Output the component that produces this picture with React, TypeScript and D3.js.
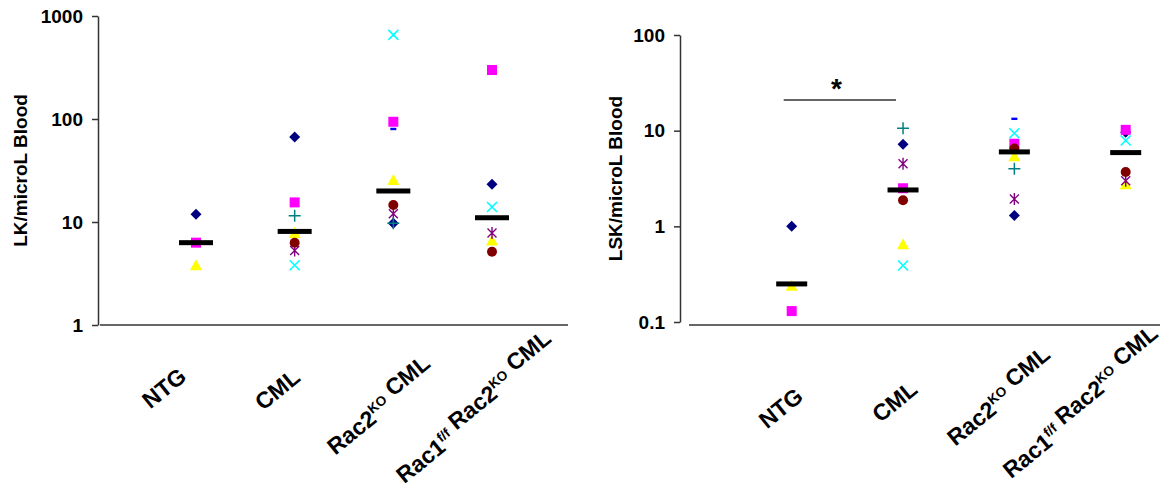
import React, { useEffect, useRef } from 'react';
import * as d3 from 'd3';

// groups on the x axis
const categories = ['NTG', 'CML', 'Rac2KO CML', 'Rac1ff Rac2KO CML'];
const labelMain = [['NTG'], ['CML'], ['Rac2', ' CML'], ['Rac1', ' Rac2', ' CML']];
const labelSup = [[], [], ['KO'], ['f/f', 'KO']];

// LK / microL blood (left panel), one array per mouse marker
const lkDiamond = [11.9, 67, 9.7, 23.2];
const lkSquare = [6.3, 15.5, 94, 299];
const lkTriangle = [3.8, 7.8, 25.6, 6.6];
const lkCross = [null, 3.8, 655, 14];
const lkStar = [null, 5.3, 12, 7.8];
const lkCircle = [null, 6.3, 14.6, 5.15];
const lkPlus = [null, 11.5, 9.7, null];
const lkDash = [null, null, 80, null];
const lkMean = [6.3, 8.1, 20, 11];
const lkTicks = [1, 10, 100, 1000];

// LSK / microL blood (right panel)
const lskDiamond = [1.0, 7.2, 1.3, 9.6];
const lskSquare = [0.13, 2.5, 7.3, 10.2];
const lskTriangle = [0.24, 0.65, 5.4, 2.75];
const lskCross = [null, 0.39, 9.4, 7.9];
const lskStar = [null, 4.5, 1.93, 3.0];
const lskCircle = [null, 1.87, 6.5, 3.7];
const lskPlus = [null, 10.6, 4.0, null];
const lskDash = [null, null, 13.3, null];
const lskMean = [0.25, 2.4, 6.0, 5.9];
const lskTicks = [0.1, 1, 10, 100];

const FONT = 'Liberation Sans, Arial, sans-serif';

// marker drawing, in series order
const markers = [
  { key: 'diamond', draw: (g) => g.append('path').attr('d', 'M0,-5.5L5.5,0L0,5.5L-5.5,0Z').attr('fill', '#000080') },
  { key: 'square', draw: (g) => g.append('rect').attr('x', -5).attr('y', -5).attr('width', 10).attr('height', 10).attr('fill', '#FF00FF') },
  { key: 'triangle', draw: (g) => g.append('path').attr('d', 'M0,-6L6,5L-6,5Z').attr('fill', '#FFFF00') },
  { key: 'cross', draw: (g) => g.append('path').attr('d', 'M-5,-5L5,5M-5,5L5,-5').attr('stroke', '#00FFFF').attr('stroke-width', 1.6).attr('fill', 'none') },
  { key: 'star', draw: (g) => g.append('path').attr('d', 'M-4.5,-4.5L4.5,4.5M-4.5,4.5L4.5,-4.5M0,-6L0,6').attr('stroke', '#800080').attr('stroke-width', 1.4).attr('fill', 'none') },
  { key: 'circle', draw: (g) => g.append('circle').attr('r', 5).attr('fill', '#800000') },
  { key: 'plus', draw: (g) => g.append('path').attr('d', 'M-6,0L6,0M0,-6L0,6').attr('stroke', '#008080').attr('stroke-width', 1.5).attr('fill', 'none') },
  { key: 'dash', draw: (g) => g.append('rect').attr('x', -3).attr('y', -1.2).attr('width', 6).attr('height', 2.4).attr('fill', '#0000FF') },
];

function drawPanel(svg, opts) {
  const { series, mean, ticks, yDomain, yRange, xRange, axisX, baseline, title, titleX, barW, labelPos } = opts;

  const x = d3.scalePoint().domain(categories).range(xRange);
  const y = d3.scaleLog().domain(yDomain).range(yRange);

  const yAxis = svg.append('g')
    .attr('transform', `translate(${axisX},0)`)
    .call(d3.axisLeft(y).tickValues(ticks).tickFormat((d) => String(d)).tickSize(6).tickSizeOuter(0).tickPadding(9));
  yAxis.select('.domain').attr('stroke', '#333').attr('stroke-width', 1.5);
  yAxis.selectAll('.tick line').attr('stroke', '#333').attr('stroke-width', 1.5);
  yAxis.selectAll('.tick text')
    .attr('font-family', FONT).attr('font-size', 19).attr('font-weight', 'bold').attr('fill', '#000');

  // category baseline
  svg.append('line')
    .attr('x1', baseline[0]).attr('x2', baseline[1])
    .attr('y1', 325).attr('y2', 325)
    .attr('stroke', '#333').attr('stroke-width', 1.5);

  svg.append('text')
    .attr('transform', `translate(${titleX},${(yRange[0] + yRange[1]) / 2}) rotate(-90)`)
    .attr('text-anchor', 'middle')
    .attr('font-family', FONT).attr('font-size', 19).attr('font-weight', 'bold')
    .text(title);

  series.forEach((vals, si) => {
    vals.forEach((v, i) => {
      if (v == null) return;
      const g = svg.append('g').attr('transform', `translate(${x(categories[i])},${y(v)})`);
      markers[si].draw(g);
    });
  });

  mean.forEach((v, i) => {
    svg.append('rect')
      .attr('x', x(categories[i]) - barW / 2)
      .attr('y', y(v) - 2.5)
      .attr('width', barW).attr('height', 5)
      .attr('fill', '#000');
  });

  categories.forEach((c, i) => {
    const [dx, ly] = labelPos[i];
    const t = svg.append('text')
      .attr('transform', `translate(${x(c) + dx},${ly}) rotate(-39)`)
      .attr('text-anchor', 'end')
      .attr('font-family', FONT).attr('font-size', 23).attr('font-weight', 'bold');
    labelMain[i].forEach((part, k) => {
      t.append('tspan').text(part);
      if (labelSup[i][k]) {
        t.append('tspan').attr('font-size', 13.5).attr('dy', -9).text(labelSup[i][k]);
        t.append('tspan').attr('dy', 9).text('');
      }
    });
  });

  return { x, y };
}

export default function App() {
  const ref = useRef(null);

  useEffect(() => {
    const svg = d3.select(ref.current);
    svg.selectAll('*').remove();

    drawPanel(svg, {
      series: [lkDiamond, lkSquare, lkTriangle, lkCross, lkStar, lkCircle, lkPlus, lkDash],
      mean: lkMean,
      ticks: lkTicks,
      yDomain: [1, 1000],
      yRange: [325, 16],
      xRange: [196, 492],
      axisX: 98,
      baseline: [100, 568],
      title: 'LK/microL Blood',
      titleX: 27,
      barW: 34,
      labelPos: [[-8, 379], [7, 380], [44, 373], [72, 355]],
    });

    const right = drawPanel(svg, {
      series: [lskDiamond, lskSquare, lskTriangle, lskCross, lskStar, lskCircle, lskPlus, lskDash],
      mean: lskMean,
      ticks: lskTicks,
      yDomain: [0.1, 100],
      yRange: [322, 35],
      xRange: [791.7, 1125.7],
      axisX: 680,
      baseline: [689, 1160],
      title: 'LSK/microL Blood',
      titleX: 622,
      barW: 31,
      labelPos: [[13, 399], [16, 392], [43, 364], [45, 350]],
    });

    // significance bracket NTG vs CML
    const x0 = right.x(categories[0]);
    const x1 = right.x(categories[1]);
    svg.append('line')
      .attr('x1', x0 - 8).attr('x2', x1 - 7)
      .attr('y1', 100).attr('y2', 100)
      .attr('stroke', '#333').attr('stroke-width', 1.5);
    svg.append('text')
      .attr('x', (x0 + x1) / 2 - 11).attr('y', 98)
      .attr('text-anchor', 'middle')
      .attr('font-family', FONT).attr('font-size', 28).attr('font-weight', 'bold')
      .text('*');
  }, []);

  return (
    <svg ref={ref} width={1172} height={489}
      style={{ position: 'absolute', left: 0, top: 0, background: '#fff' }} />
  );
}
